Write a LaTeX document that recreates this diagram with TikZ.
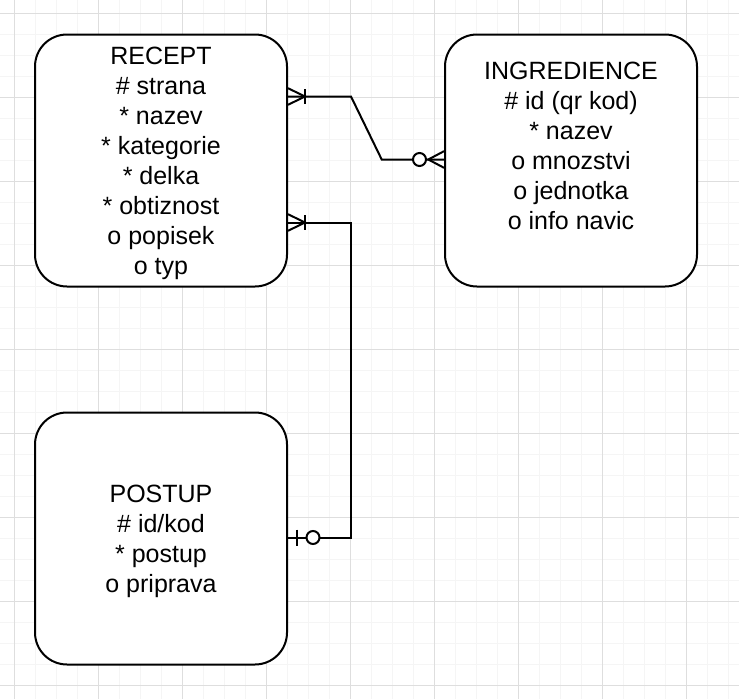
\documentclass[tikz,border=0pt]{standalone}
\usepackage{fontspec}
\setmainfont{Liberation Sans}
\usetikzlibrary{calc}
\definecolor{gridmajor}{RGB}{222,222,222}
\definecolor{gridminor}{RGB}{245,245,245}

\begin{document}
\begin{tikzpicture}[x=1pt,y=-1pt,line width=2pt,
  entity/.style={draw,fill=white,rounded corners=32pt,minimum width=252pt,minimum height=252pt,
    inner sep=0pt,align=center,font=\fontsize{25}{30}\selectfont,text depth=-4.2pt},
  onemany/.pic={\draw (0,-8.3) -- (17,0) -- (0,8.3); \draw (17,-7.5) -- (17,7.5);},
  zeromany/.pic={\draw (0,-8.3) -- (15.7,0) -- (0,8.3); \draw[fill=white] (24.5,0) circle[radius=6.5pt];},
  zeroone/.pic={\draw (8.5,-8) -- (8.5,8); \draw[fill=white] (25,0) circle[radius=6.5pt];}]
\useasboundingbox[fill=white] (0,0) rectangle (739,699);
\foreach \k in {0,...,34} \draw[gridminor,line width=1pt] (14.3+21*\k,0) -- (14.3+21*\k,699);
\foreach \k in {0,...,32} \draw[gridminor,line width=1pt] (0,13.3+21*\k) -- (739,13.3+21*\k);
\foreach \k in {0,...,8} \draw[gridmajor,line width=1pt] (14.3+84*\k,0) -- (14.3+84*\k,699);
\foreach \k in {0,...,8} \draw[gridmajor,line width=1pt] (0,13.3+84*\k) -- (739,13.3+84*\k);

\node[entity] (recept) at (161,160.5) {RECEPT\\\# strana\\* nazev\\* kategorie\\* delka\\* obtiznost\\o popisek\\o typ};
\node[entity,text depth=29pt] (ingred) at (571,160.5) {INGREDIENCE\\\# id (qr kod)\\* nazev\\o mnozstvi\\o jednotka\\o info navic};
\node[entity] (postup) at (161,538.5) {POSTUP\\\# id/kod\\* postup\\o priprava};

\coordinate (a1) at ($(recept.north east)+(0,63)$);
\coordinate (b1) at ($(ingred.north west)+(0,126)$);
\coordinate (a2) at ($(recept.north east)+(0,189)$);
\coordinate (b2) at ($(postup.north east)+(0,126)$);
\draw (a1) -- ++(63,0) -- ($(b1)+(-62.3,0)$) -- (b1);
\draw (a2) -- ++(63,0) |- (b2);
\pic at (a1) {onemany};
\pic at (a2) {onemany};
\pic[xscale=-1] at (b1) {zeromany};
\pic at (b2) {zeroone};
\end{tikzpicture}
\end{document}
